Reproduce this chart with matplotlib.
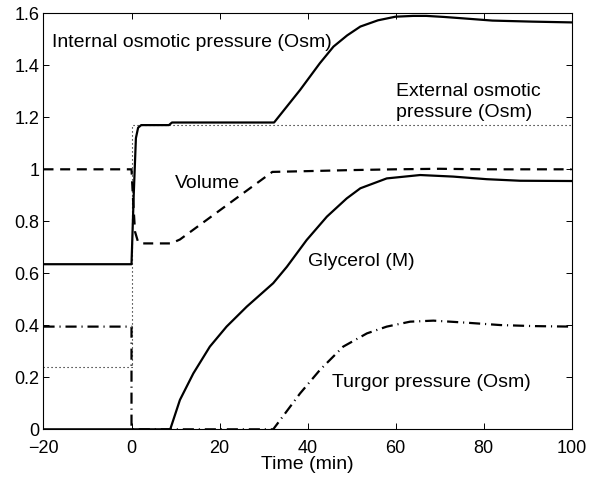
import matplotlib
matplotlib.use("Agg")
import matplotlib.pyplot as plt

plt.rcParams['font.family'] = ['Liberation Sans', 'DejaVu Sans']

# ---- data ----
t_internal = [-20, 0, 0.5, 1.0, 1.5, 2.2, 8.5, 9.2, 32.4, 38.3, 42.8, 45.9, 49, 52,
              56, 60, 64, 67, 71, 75, 82, 91, 100]
internal = [0.635, 0.635, 0.90, 1.12, 1.16, 1.17, 1.17, 1.18, 1.18, 1.305, 1.408, 1.472,
            1.515, 1.549, 1.573, 1.587, 1.590, 1.590, 1.586, 1.581, 1.572, 1.568, 1.565]

t_external = [-20, 0, 0, 100]
external = [0.24, 0.24, 1.17, 1.17]

t_volume = [-20, 0, 0.3, 0.8, 1.5, 2.5, 9, 11, 32, 40, 50, 60, 70, 80, 100]
volume = [1.0, 1.0, 0.90, 0.76, 0.72, 0.715, 0.715, 0.73, 0.99, 0.993, 0.997, 1.0,
          1.002, 1.0, 1.0]

t_glycerol = [-20, 8.8, 11.0, 14.05, 17.8, 21.6, 26.2, 32.2, 35.3, 39.8, 44.4, 48.9,
              52, 58, 65.6, 73.1, 80.7, 88.3, 100]
glycerol = [0, 0, 0.113, 0.215, 0.318, 0.395, 0.472, 0.562, 0.625, 0.728, 0.818, 0.888,
            0.927, 0.965, 0.978, 0.972, 0.962, 0.956, 0.955]

t_turgor = [-20, 0, 0, 32.2, 38.3, 42.8, 48.1, 53.5, 58, 63.3, 68.6, 76.2, 83.8, 91.3, 100]
turgor = [0.395, 0.395, 0, 0, 0.138, 0.228, 0.318, 0.369, 0.395, 0.414, 0.418, 0.410,
          0.401, 0.397, 0.395]

x_ticks = [-20, 0, 20, 40, 60, 80, 100]
y_ticks = [0, 0.2, 0.4, 0.6, 0.8, 1.0, 1.2, 1.4, 1.6]
y_tick_labels = ["0", "0.2", "0.4", "0.6", "0.8", "1", "1.2", "1.4", "1.6"]

# ---- figure ----
fig = plt.figure(figsize=(6.1, 4.82), dpi=100)
ax = fig.add_axes([0.0713, 0.1093, 0.8657, 0.8631])

ax.plot(t_external, external, color='black', lw=0.8, linestyle=(0, (1, 2.6)))
ax.plot(t_internal, internal, color='black', lw=1.6, solid_joinstyle='round')
ax.plot(t_volume, volume, color='black', lw=1.6, linestyle=(0, (4.5, 3)))
ax.plot(t_glycerol, glycerol, color='black', lw=1.6, solid_joinstyle='round')
ax.plot(t_turgor, turgor, color='black', lw=1.6, linestyle=(0, (5, 2.2, 0.5, 2.2)))

ax.set_xlim(-20, 100)
ax.set_ylim(0, 1.6)
ax.set_xticks(x_ticks)
ax.set_yticks(y_ticks)
ax.set_yticklabels(y_tick_labels)
ax.tick_params(direction='in', length=4, width=0.7, top=True, right=True,
               labelsize=13)
ax.tick_params(axis='x', pad=8)
ax.tick_params(axis='y', pad=3)
for s in ax.spines.values():
    s.set_linewidth(0.8)

ax.set_xlabel("Time (min)", fontsize=14, labelpad=-1)

# annotations
ax.text(-18.1, 1.486, "Internal osmotic pressure (Osm)", fontsize=14, va='center')
ax.text(60.1, 1.258, "External osmotic\npressure (Osm)", fontsize=14, va='center',
        linespacing=1.32)
ax.text(9.9, 0.947, "Volume", fontsize=14, va='center')
ax.text(40.2, 0.645, "Glycerol (M)", fontsize=14, va='center')
ax.text(45.5, 0.179, "Turgor pressure (Osm)", fontsize=14, va='center')

fig.savefig("out.png", dpi=100)
